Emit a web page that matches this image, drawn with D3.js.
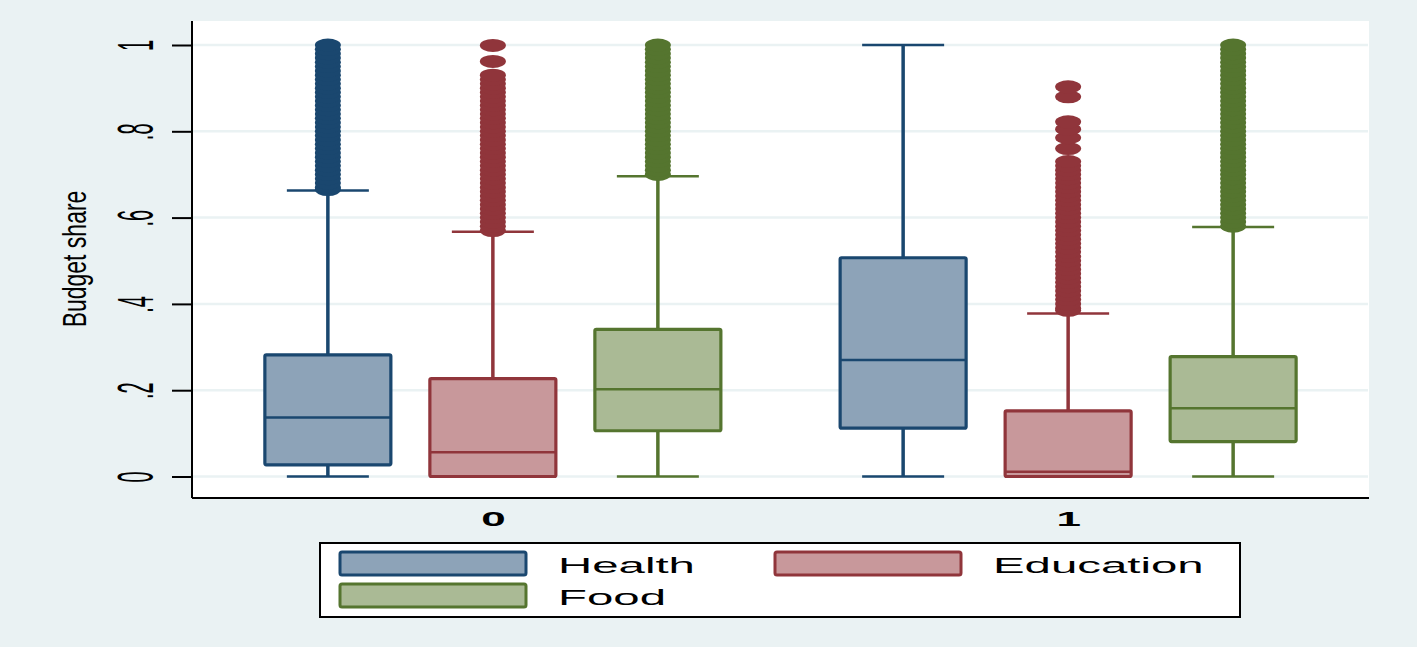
<!DOCTYPE html>
<html>
<head>
<meta charset="utf-8">
<script src="https://cdn.jsdelivr.net/npm/d3@7"></script>
<style>
  html, body { margin: 0; padding: 0; background: #EAF2F3; }
  svg { display: block; }
  text { font-family: "Liberation Sans", Arial, sans-serif; fill: #000; }
</style>
</head>
<body>
<svg id="chart" width="1417" height="647"></svg>
<script>
// ---------- data ----------
const groups = ["0", "1"];
const seriesNames = ["Health", "Education", "Food"];
const yTickValues = [0, 0.2, 0.4, 0.6, 0.8, 1];
const yTickLabels = ["0", ".2", ".4", ".6", ".8", "1"];
const yTitle = "Budget share";

// box stats per group: [lower whisker, q1, median, q3, upper whisker]
const healthBox    = [[0, 0.027, 0.137, 0.282, 0.663], [0, 0.112, 0.270, 0.507, 1.000]];
const educationBox = [[0, 0.000, 0.056, 0.227, 0.567], [0, 0.000, 0.011, 0.152, 0.378]];
const foodBox      = [[0, 0.106, 0.202, 0.341, 0.696], [0, 0.081, 0.158, 0.278, 0.578]];

// outside values per group
const healthOut = [
  [0.665, 0.67, 0.68, 0.69, 0.70, 0.71, 0.72, 0.73, 0.74, 0.75, 0.76, 0.77, 0.78, 0.79, 0.80, 0.81, 0.82,
   0.83, 0.84, 0.85, 0.86, 0.87, 0.88, 0.89, 0.90, 0.91, 0.92, 0.93, 0.94, 0.95, 0.96, 0.97, 0.98, 0.99, 1.00],
  []
];
const educationOut = [
  [0.57, 0.58, 0.59, 0.60, 0.61, 0.62, 0.63, 0.64, 0.65, 0.66, 0.67, 0.68, 0.69, 0.70, 0.71, 0.72, 0.73,
   0.74, 0.75, 0.76, 0.77, 0.78, 0.79, 0.80, 0.81, 0.82, 0.83, 0.84, 0.85, 0.86, 0.87, 0.88, 0.89, 0.90,
   0.91, 0.92, 0.93, 0.962, 0.999],
  [0.385, 0.39, 0.40, 0.41, 0.42, 0.43, 0.44, 0.45, 0.46, 0.47, 0.48, 0.49, 0.50, 0.51, 0.52, 0.53, 0.54,
   0.55, 0.56, 0.57, 0.58, 0.59, 0.60, 0.61, 0.62, 0.63, 0.64, 0.65, 0.66, 0.67, 0.68, 0.69, 0.70, 0.71,
   0.72, 0.73, 0.76, 0.785, 0.805, 0.822, 0.88, 0.903]
];
const foodOut = [
  [0.70, 0.71, 0.72, 0.73, 0.74, 0.75, 0.76, 0.77, 0.78, 0.79, 0.80, 0.81, 0.82, 0.83, 0.84, 0.85, 0.86,
   0.87, 0.88, 0.89, 0.90, 0.91, 0.92, 0.93, 0.94, 0.95, 0.96, 0.97, 0.98, 0.99, 1.00],
  [0.58, 0.59, 0.60, 0.61, 0.62, 0.63, 0.64, 0.65, 0.66, 0.67, 0.68, 0.69, 0.70, 0.71, 0.72, 0.73, 0.74,
   0.75, 0.76, 0.77, 0.78, 0.79, 0.80, 0.81, 0.82, 0.83, 0.84, 0.85, 0.86, 0.87, 0.88, 0.89, 0.90, 0.91,
   0.92, 0.93, 0.94, 0.95, 0.96, 0.97, 0.98, 0.99, 1.00]
];

const strokeColors = ["#1A476F", "#90353B", "#55752F"];
const fillColors   = ["#8DA3B8", "#C8989B", "#AABA95"];

// ---------- layout ----------
const svg = d3.select("#chart");
const plot = { left: 192, right: 1369, top: 21, bottom: 498 };

const y = d3.scaleLinear().domain([0, 1]).range([476.5, 45]);
const x = d3.scalePoint().domain(groups).range([plot.left, plot.right]).padding(0.523);
const inner = d3.scalePoint().domain(seriesNames).range([-165, 165]);
const color = d3.scaleOrdinal().domain(seriesNames).range(strokeColors);
const fill = d3.scaleOrdinal().domain(seriesNames).range(fillColors);

const boxW = 126, capW = 82;

// plot region
svg.append("rect")
  .attr("x", plot.left).attr("y", plot.top)
  .attr("width", plot.right - plot.left).attr("height", plot.bottom - plot.top)
  .attr("fill", "#fff");

// gridlines
svg.append("g").selectAll("line").data(yTickValues).join("line")
  .attr("x1", plot.left + 1).attr("x2", plot.right - 1)
  .attr("y1", d => y(d)).attr("y2", d => y(d))
  .attr("stroke", "#EAF2F3").attr("stroke-width", 2.5);

// y axis
const yAxis = svg.append("g").attr("transform", `translate(${plot.left},0)`)
  .call(d3.axisLeft(y).tickValues(yTickValues).tickSize(20)
    .tickFormat((d, i) => yTickLabels[i]));
yAxis.select(".domain").remove();
yAxis.selectAll(".tick line").attr("stroke", "#000").attr("stroke-width", 2);
yAxis.selectAll(".tick text")
  .attr("x", null).attr("dy", null)
  .attr("text-anchor", "middle")
  .attr("font-size", 20)
  .attr("transform", "translate(-39,0) rotate(-90) scale(1,2.5)");

svg.append("line")
  .attr("x1", plot.left).attr("x2", plot.left)
  .attr("y1", plot.top).attr("y2", plot.bottom)
  .attr("stroke", "#000").attr("stroke-width", 2);

// x axis
const xAxis = svg.append("g").attr("transform", `translate(0,${plot.bottom})`)
  .call(d3.axisBottom(x).tickSize(0));
xAxis.select(".domain").attr("stroke", "#000").attr("stroke-width", 2)
  .attr("d", `M${plot.left},0H${plot.right}`);
xAxis.selectAll(".tick text")
  .attr("y", null).attr("dy", null)
  .attr("text-anchor", "middle")
  .attr("font-size", 20)
  .attr("font-weight", "bold")
  .attr("transform", "translate(0,27.5) scale(2.2,1)");

// y title
svg.append("text")
  .attr("text-anchor", "middle")
  .attr("font-size", 23)
  .attr("transform", "translate(86,259) rotate(-90) scale(1,1.45)")
  .text(yTitle);

// ---------- boxes ----------
const boxData = [];
const outData = [];
const allBoxes = { Health: healthBox, Education: educationBox, Food: foodBox };
const allOut = { Health: healthOut, Education: educationOut, Food: foodOut };
groups.forEach((g, gi) => {
  seriesNames.forEach(s => {
    const b = allBoxes[s][gi];
    boxData.push({ g, s, lo: b[0], q1: b[1], med: b[2], q3: b[3], hi: b[4] });
    allOut[s][gi].forEach(v => outData.push({ g, s, v }));
  });
});

const cx = d => x(d.g) + inner(d.s);

const bx = svg.append("g").selectAll("g").data(boxData).join("g");

// whiskers
bx.append("line")
  .attr("x1", cx).attr("x2", cx)
  .attr("y1", d => y(d.q3)).attr("y2", d => y(d.hi))
  .attr("stroke", d => color(d.s)).attr("stroke-width", 3.5);
bx.append("line")
  .attr("x1", cx).attr("x2", cx)
  .attr("y1", d => y(d.q1)).attr("y2", d => y(d.lo))
  .attr("stroke", d => color(d.s)).attr("stroke-width", 3.5);

// outliers
svg.append("g").selectAll("ellipse").data(outData).join("ellipse")
  .attr("cx", cx).attr("cy", d => y(d.v))
  .attr("rx", 13).attr("ry", 6.5)
  .attr("fill", d => color(d.s));

// caps
bx.append("line")
  .attr("x1", d => cx(d) - capW / 2).attr("x2", d => cx(d) + capW / 2)
  .attr("y1", d => y(d.hi)).attr("y2", d => y(d.hi))
  .attr("stroke", d => color(d.s)).attr("stroke-width", 2.5);
bx.append("line")
  .attr("x1", d => cx(d) - capW / 2).attr("x2", d => cx(d) + capW / 2)
  .attr("y1", d => y(d.lo)).attr("y2", d => y(d.lo))
  .attr("stroke", d => color(d.s)).attr("stroke-width", 2.5);

// boxes
bx.append("rect")
  .attr("x", d => cx(d) - boxW / 2).attr("width", boxW)
  .attr("y", d => y(d.q3)).attr("height", d => y(d.q1) - y(d.q3))
  .attr("fill", d => fill(d.s)).attr("stroke", d => color(d.s))
  .attr("stroke-width", 3.2).attr("rx", 1.5);
bx.append("line")
  .attr("x1", d => cx(d) - boxW / 2).attr("x2", d => cx(d) + boxW / 2)
  .attr("y1", d => y(d.med)).attr("y2", d => y(d.med))
  .attr("stroke", d => color(d.s)).attr("stroke-width", 2.5);

// ---------- legend ----------
const leg = svg.append("g");
leg.append("rect")
  .attr("x", 320).attr("y", 543).attr("width", 920).attr("height", 74)
  .attr("fill", "#fff").attr("stroke", "#000").attr("stroke-width", 2);

const legPos = [
  { col: 0, row: 0 }, { col: 1, row: 0 }, { col: 0, row: 1 }
];
const colX = [340, 775];
const rowY = [552, 584];
const li = leg.selectAll("g.item").data(seriesNames).join("g").attr("class", "item")
  .attr("transform", (d, i) => `translate(${colX[legPos[i].col]},${rowY[legPos[i].row]})`);
li.append("rect")
  .attr("x", 0).attr("y", 0).attr("width", 186).attr("height", 23)
  .attr("rx", 2)
  .attr("fill", d => fill(d)).attr("stroke", d => color(d)).attr("stroke-width", 3);
li.append("text")
  .attr("font-size", 23)
  .attr("transform", "translate(218,21) scale(2.06,1)")
  .text(d => d);
</script>
</body>
</html>
